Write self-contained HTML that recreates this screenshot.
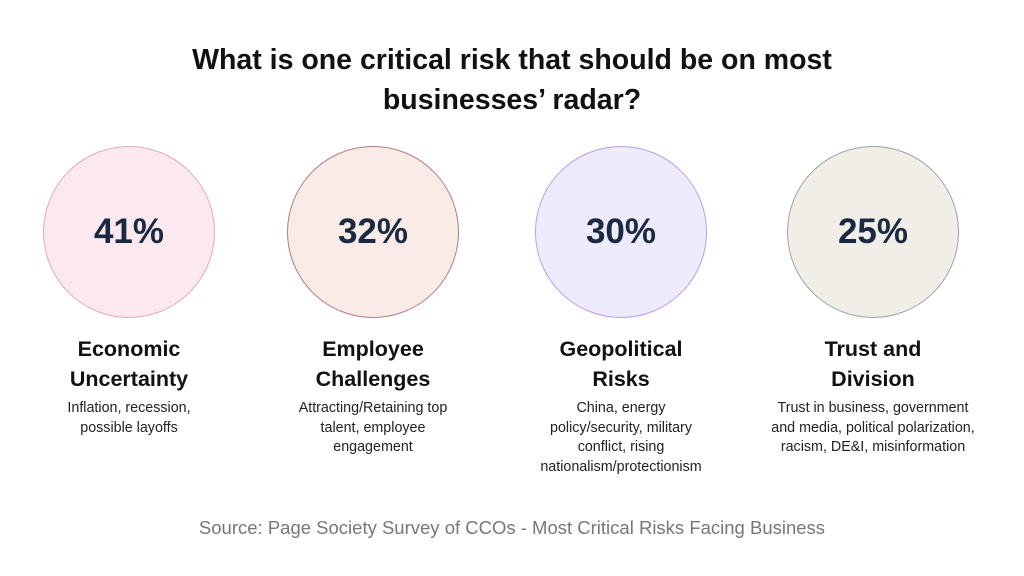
<!DOCTYPE html>
<html><head><meta charset="utf-8"><style>
body{margin:0;width:1024px;height:576px;background:#fff;font-family:"Liberation Sans",sans-serif;position:relative;overflow:hidden;color:#111}
.h{position:absolute;left:0;width:1024px;text-align:center;font-weight:bold;font-size:28.5px;line-height:40px;top:40px}
.c{position:absolute;width:170px;height:170px;border-radius:50%;top:146px;display:flex;align-items:center;justify-content:center;font-weight:bold;font-size:35px;color:#1b2a42}
.t{position:absolute;top:334px;width:240px;text-align:center;font-weight:bold;font-size:21.5px;line-height:30px;color:#111}
.d{position:absolute;top:399px;width:260px;text-align:center;font-size:14.3px;line-height:19.7px;color:#222}
.s{position:absolute;top:517px;left:0;width:1024px;text-align:center;font-size:18.5px;color:#777}
</style></head><body>
<div class="h">What is one critical risk that should be on most<br>businesses’ radar?</div>
<div class="c" style="left:43px;background:#fbe9ef;border:1px solid #e3a9bb">41%</div>
<div class="c" style="left:287px;background:#f9ebe6;border:1px solid #b47b86">32%</div>
<div class="c" style="left:535px;background:#eeebfc;border:1px solid #b99cf7">30%</div>
<div class="c" style="left:787px;background:#f1eee7;border:1px solid #95a9a2">25%</div>
<div class="t" style="left:9px">Economic<br>Uncertainty</div>
<div class="t" style="left:253px">Employee<br>Challenges</div>
<div class="t" style="left:501px">Geopolitical<br>Risks</div>
<div class="t" style="left:753px">Trust and<br>Division</div>
<div class="d" style="left:-1px">Inflation, recession,<br>possible layoffs</div>
<div class="d" style="left:243px">Attracting/Retaining top<br>talent, employee<br>engagement</div>
<div class="d" style="left:491px">China, energy<br>policy/security, military<br>conflict, rising<br>nationalism/protectionism</div>
<div class="d" style="left:733px;width:280px">Trust in business, government<br>and media, political polarization,<br>racism, DE&amp;I, misinformation</div>
<div class="s">Source: Page Society Survey of CCOs - Most Critical Risks Facing Business</div>
</body></html>
